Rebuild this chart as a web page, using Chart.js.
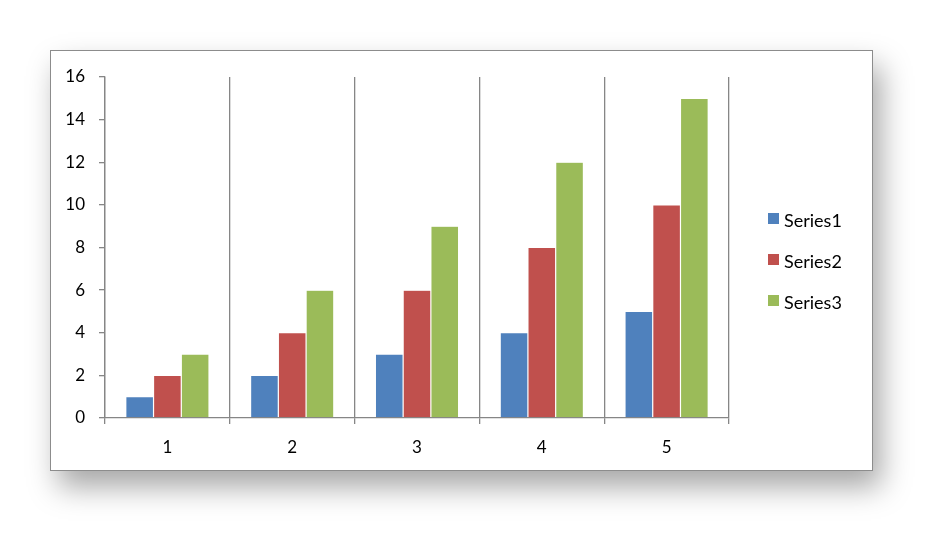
<!DOCTYPE html>
<html>
<head>
<meta charset="utf-8">
<script src="https://cdn.jsdelivr.net/npm/chart.js@4"></script>
<style>
  html, body { margin: 0; padding: 0; background: #fff; }
  #frame {
    position: absolute; left: 50px; top: 50px; width: 821px; height: 419px;
    border: 1px solid #8c8c8c; background: #fff;
    box-shadow: 8px 16px 28px rgba(0,0,0,0.35);
  }
  #wrap { position: absolute; left: 0; top: 0; width: 940px; height: 537px; }
</style>
</head>
<body>
<div id="frame"></div>
<div id="wrap"><canvas id="chart" width="940" height="537"></canvas></div>
<script>
const categories = ['1', '2', '3', '4', '5'];
const series1 = [1, 2, 3, 4, 5];
const series2 = [2, 4, 6, 8, 10];
const series3 = [3, 6, 9, 12, 15];
const seriesNames = ['Series1', 'Series2', 'Series3'];
const colors = ['#4F81BD', '#C0504D', '#9BBB59'];

const axisColor = '#868686';
const fontFamily = 'Lato, "Open Sans", sans-serif';

// legend drawn on the canvas, to the right of the plot
const sideLegend = {
    id: 'sideLegend',
    afterDraw(chart) {
        const c = chart.ctx;
        c.save();
        c.font = '18px ' + fontFamily;
        c.textBaseline = 'middle';
        chart.data.datasets.forEach(function(ds, i) {
            const y = 220 + i * 41;
            c.fillStyle = ds.backgroundColor;
            c.fillRect(768, y - 7, 11, 11);
            c.fillStyle = '#000';
            c.fillText(ds.label, 784, y + 1);
        });
        c.restore();
    }
};

new Chart(document.getElementById('chart'), {
    type: 'bar',
    data: {
        labels: categories,
        datasets: [series1, series2, series3].map(function(d, i) {
            return {
                label: seriesNames[i],
                data: d,
                backgroundColor: colors[i],
                borderColor: 'rgba(255,255,255,0.2)',
                borderWidth: 0.6,
                categoryPercentage: 0.667,
                barPercentage: 1
            };
        })
    },
    options: {
        responsive: false,
        animation: false,
        layout: { padding: { left: 0, top: 77, right: 211, bottom: 79 } },
        plugins: { legend: { display: false }, tooltip: { enabled: false } },
        scales: {
            x: {
                afterFit: function(scale) { scale.height = 40; },
                grid: {
                    offset: true,
                    color: axisColor,
                    lineWidth: 1.3,
                    drawOnChartArea: true,
                    tickLength: 6
                },
                border: { color: axisColor, width: 1.3 },
                ticks: {
                    color: '#000',
                    padding: 13,
                    font: { family: fontFamily, size: 17 }
                }
            },
            y: {
                min: 0,
                max: 16,
                afterFit: function(scale) { scale.width = 105; },
                grid: {
                    drawOnChartArea: false,
                    color: axisColor,
                    lineWidth: 1.3,
                    tickLength: 6
                },
                border: { color: axisColor, width: 1.3 },
                ticks: {
                    stepSize: 2,
                    color: '#000',
                    padding: 14,
                    font: { family: fontFamily, size: 17 }
                }
            }
        }
    },
    plugins: [sideLegend]
});
</script>
</body>
</html>
